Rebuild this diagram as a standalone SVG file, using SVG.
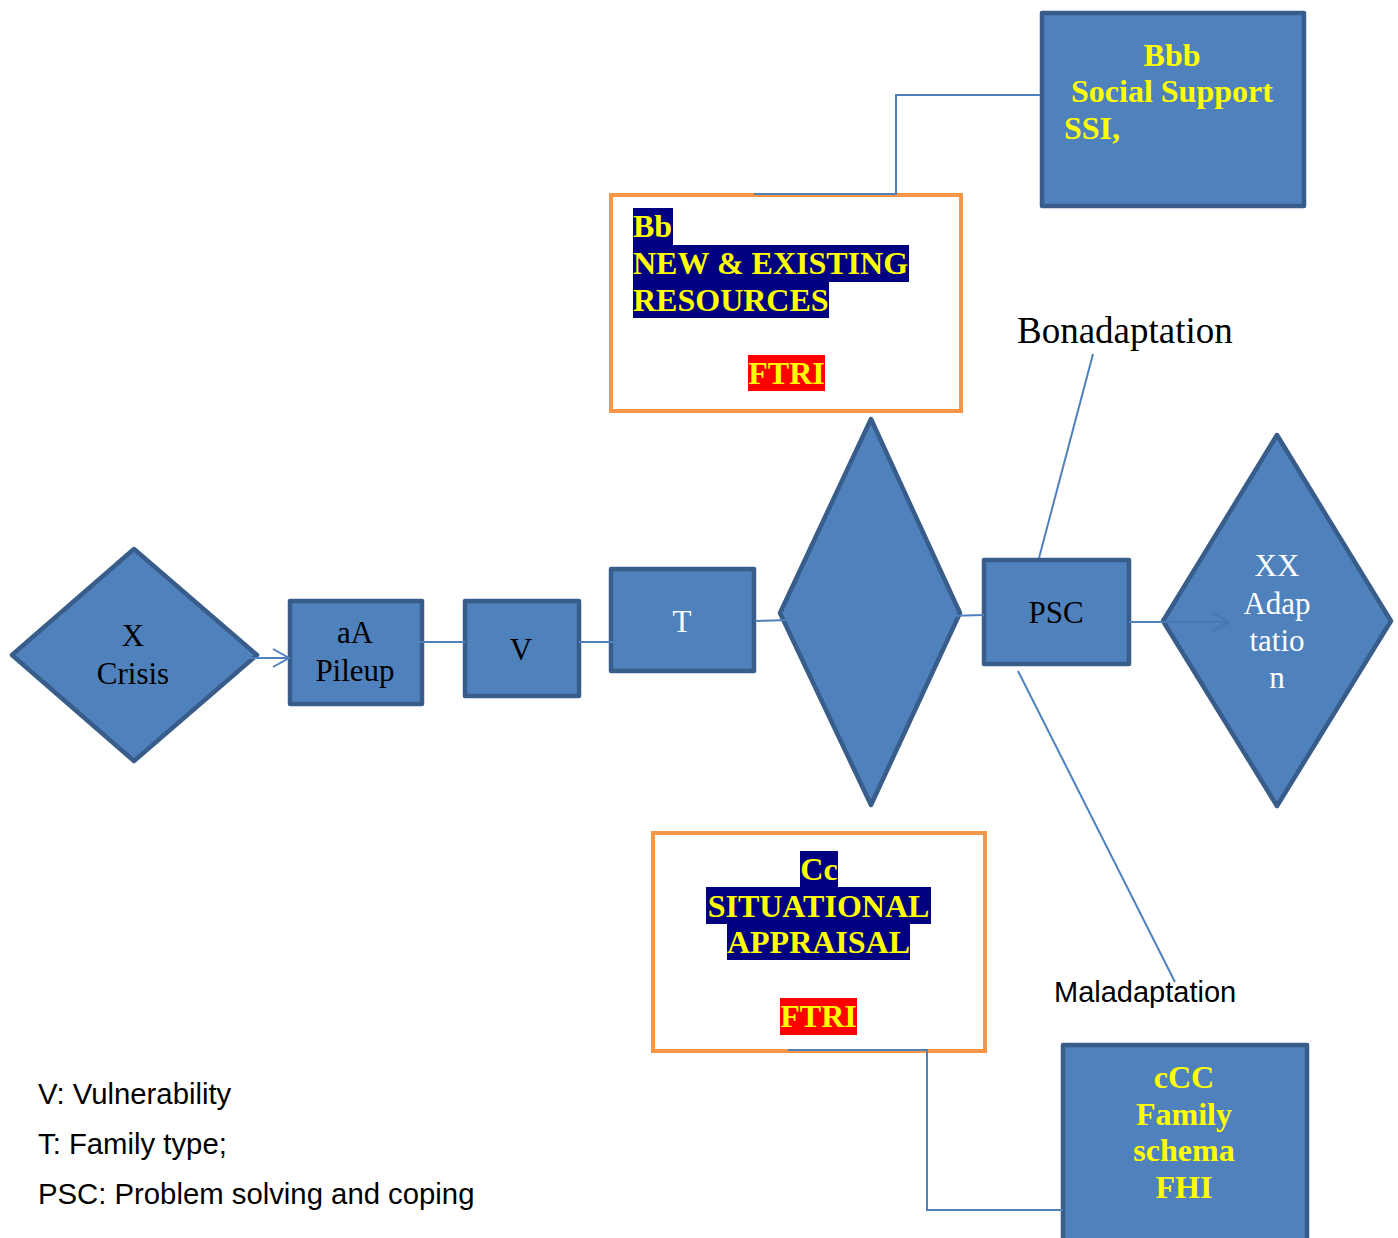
<svg xmlns="http://www.w3.org/2000/svg" width="1398" height="1238" viewBox="0 0 1398 1238">
<defs>
<style>
.shape{fill:#4F81BD;stroke:#385D8A;stroke-width:4.5;stroke-linejoin:round}
.obox{fill:#FFFFFF;stroke:#F79646;stroke-width:4}
.conn{fill:none;stroke:#4F81BD;stroke-width:2}
.tr{font-family:"Liberation Serif","Times New Roman",serif;font-size:31px;fill:#000000;text-anchor:middle}
.tw{font-family:"Liberation Serif","Times New Roman",serif;font-size:31px;fill:#FFFFFF;text-anchor:middle}
.ty{font-family:"Liberation Serif","Times New Roman",serif;font-size:32px;font-weight:bold;fill:#FFFF00}
.ar{font-family:"Liberation Sans",Arial,sans-serif;font-size:29.3px;fill:#000000}
.navy{fill:#000080}
.red{fill:#FF0000}
</style>
<marker id="open" markerWidth="20" markerHeight="20" refX="17" refY="10" orient="auto" markerUnits="userSpaceOnUse">
<path d="M1,1 L17,10 L1,19" fill="none" stroke="#4F81BD" stroke-width="2"/>
</marker>
<marker id="openfaint" markerWidth="20" markerHeight="20" refX="17" refY="10" orient="auto" markerUnits="userSpaceOnUse">
<path d="M1,1 L17,10 L1,19" fill="none" stroke="#4876B0" stroke-width="2"/>
</marker>
</defs>
<rect x="0" y="0" width="1398" height="1238" fill="#FFFFFF"/>

<g id="node-bbb">
<rect class="shape" x="1042" y="13" width="262" height="193"/>
<text class="ty" x="1172" y="66" text-anchor="middle">Bbb</text>
<text class="ty" x="1071" y="102">Social Support</text>
<text class="ty" x="1064" y="139">SSI,</text>
</g>

<g id="node-bb">
<rect class="obox" x="611" y="195" width="350" height="216"/>
<rect class="navy" x="633" y="208" width="40" height="37"/>
<rect class="navy" x="633" y="245" width="276" height="37"/>
<rect class="navy" x="633" y="282" width="196" height="36"/>
<rect class="red" x="748" y="355" width="77" height="36"/>
<text class="ty" x="633" y="237">Bb</text>
<text class="ty" x="633" y="274">NEW &amp; EXISTING</text>
<text class="ty" x="633" y="311">RESOURCES</text>
<text class="ty" x="786.5" y="384" text-anchor="middle">FTRI</text>
</g>

<g id="label-bonadaptation">
<text x="1017" y="343" style="font-family:'Liberation Serif','Times New Roman',serif;font-size:37px;fill:#000000">Bonadaptation</text>
</g>

<g id="node-x">
<polygon class="shape" points="12,655 134,549 257,655 134,761"/>
<text class="tr" x="133" y="646">X</text>
<text class="tr" x="133" y="684">Crisis</text>
</g>

<g id="node-aa">
<rect class="shape" x="290" y="601" width="132" height="103"/>
<text class="tr" x="355" y="643">aA</text>
<text class="tr" x="355" y="681">Pileup</text>
</g>

<g id="node-v">
<rect class="shape" x="465" y="601" width="114" height="95"/>
<text class="tr" x="521" y="660">V</text>
</g>

<g id="node-t">
<rect class="shape" x="611" y="569" width="143" height="102"/>
<text class="tw" x="682" y="632">T</text>
</g>

<g id="node-diamond">
<polygon class="shape" points="780,613 871,419 960,613 871,805"/>
</g>

<g id="node-psc">
<rect class="shape" x="984" y="560" width="145" height="104"/>
<text class="tr" x="1056" y="623">PSC</text>
</g>

<g id="node-xx">
<polygon class="shape" points="1163,621 1277,435 1391,621 1277,806"/>
<text class="tw" x="1277" y="576">XX</text>
<text class="tw" x="1277" y="614">Adap</text>
<text class="tw" x="1277" y="651">tatio</text>
<text class="tw" x="1277" y="688">n</text>
</g>

<g id="node-cc">
<rect class="obox" x="653" y="833" width="332" height="218"/>
<rect class="navy" x="800" y="851" width="38" height="36"/>
<rect class="navy" x="706" y="887" width="225" height="37"/>
<rect class="navy" x="727" y="924" width="183" height="36"/>
<rect class="red" x="780" y="998" width="77" height="37"/>
<text class="ty" x="819" y="880" text-anchor="middle">Cc</text>
<text class="ty" x="818.5" y="917" text-anchor="middle">SITUATIONAL</text>
<text class="ty" x="818.5" y="953" text-anchor="middle">APPRAISAL</text>
<text class="ty" x="818.5" y="1027" text-anchor="middle">FTRI</text>
</g>

<g id="label-maladaptation">
<text x="1054" y="1002" style="font-family:'Liberation Sans',Arial,sans-serif;font-size:29px;fill:#000000">Maladaptation</text>
</g>

<g id="node-ccc">
<rect class="shape" x="1063" y="1045" width="244" height="210"/>
<text class="ty" x="1184" y="1088" text-anchor="middle">cCC</text>
<text class="ty" x="1184" y="1125" text-anchor="middle">Family</text>
<text class="ty" x="1184" y="1161" text-anchor="middle">schema</text>
<text class="ty" x="1184" y="1198" text-anchor="middle">FHI</text>
</g>

<g id="legend">
<text class="ar" x="38" y="1104">V: Vulnerability</text>
<text class="ar" x="38" y="1154">T: Family type;</text>
<text class="ar" x="38" y="1204">PSC: Problem solving and coping</text>
</g>

<g id="connectors">
<line class="conn" x1="227" y1="658" x2="289" y2="658" marker-end="url(#open)"/>
<line class="conn" x1="373" y1="642" x2="465" y2="642"/>
<line class="conn" x1="579" y1="642" x2="633" y2="642"/>
<line class="conn" x1="755" y1="621" x2="984" y2="615"/>
<line class="conn" x1="1129" y1="622" x2="1163" y2="622"/>
<line x1="1163" y1="622" x2="1229" y2="622" stroke="#4876B0" stroke-width="2" marker-end="url(#openfaint)"/>
<line class="conn" x1="1093" y1="354" x2="1039" y2="558"/>
<line class="conn" x1="1018" y1="671" x2="1175" y2="982"/>
<polyline class="conn" points="1040,95 896,95 896,194 754,194"/>
<polyline class="conn" points="788,1050 927,1050 927,1210 1063,1210"/>
</g>
</svg>
